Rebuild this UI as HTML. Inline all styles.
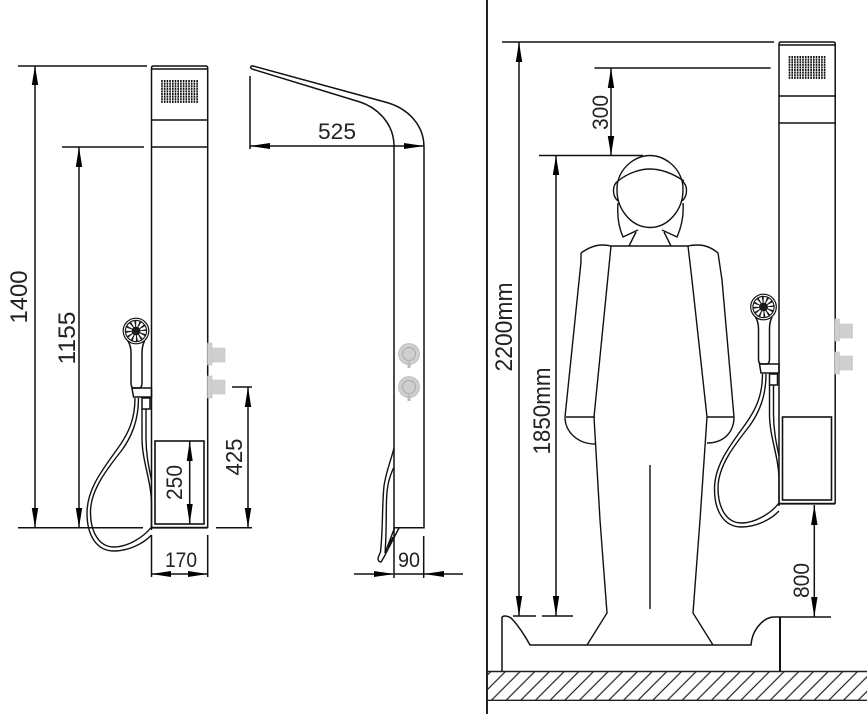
<!DOCTYPE html>
<html><head><meta charset="utf-8"><style>
html,body{margin:0;padding:0;background:#fff;width:867px;height:714px;overflow:hidden}
svg{display:block}
text{font-family:"Liberation Sans",sans-serif;font-size:22px;fill:#222;text-anchor:middle}
.l{fill:none;stroke:#111;stroke-width:1.5}
.h{fill:none;stroke:#111;stroke-width:1.4}
.a{fill:#000;stroke:none}
.v{fill:#cfcfcf;stroke:#c4c4c4;stroke-width:.6}
</style></head><body>
<svg width="867" height="714" viewBox="0 0 867 714" xmlns="http://www.w3.org/2000/svg">
<defs>
<pattern id="ht" patternUnits="userSpaceOnUse" x="3.4" y="0" width="14.67" height="14.67">
<path d="M-2 16.67L16.67 -2M-2 2L2 -2M12.67 16.67L16.67 12.67" fill="none" stroke="#222" stroke-width="1.2"/>
</pattern>
<g id="panel">
<path class="l" d="M151.5 527.7V68Q151.5 66 153.5 66H205.7Q207.7 66 207.7 68V527.7"/>
<path class="l" d="M151.5 69H207.7M151.5 120H207.7M151.5 147H207.7"/>
<path d="M151.5 527.7H207.7" fill="none" stroke="#111" stroke-width="1.9"/>
<rect x="155" y="441" width="49" height="83" fill="none" stroke="#111" stroke-width="1.6"/>
<path d="M162 80V103M164.7 80V103M167.4 80V103M170.1 80V103M172.8 80V103M175.5 80V103M178.2 80V103M180.9 80V103M183.6 80V103M186.3 80V103M189 80V103M191.7 80V103M194.4 80V103M197.1 80V103" fill="none" stroke="#111" stroke-width="1.6" stroke-dasharray="2.1 .5"/>
<!-- valves -->
<rect class="v" x="207.5" y="343" width="4.5" height="22"/>
<rect class="v" x="212" y="348" width="13" height="14"/>
<rect class="v" x="207.5" y="376" width="4.5" height="22"/>
<rect class="v" x="212" y="380" width="13" height="14"/>
<!-- hand shower -->
<path class="l" d="M128 341Q131 346 131 353V383Q131 388 134 388H139Q142 388 142 383V353Q142 346 144.5 341" fill="#fff"/>
<circle cx="136" cy="331" r="12.8" fill="#fff" stroke="#111" stroke-width="1.2"/>
<circle cx="136" cy="331" r="11.2" fill="#1c1c1c"/>
<circle cx="136" cy="331" r="7.2" fill="none" stroke="#fff" stroke-width="5.6" stroke-dasharray="2.3 1.47"/>
<path class="l" d="M132 388H151.5V397H133.5Z" fill="#fff" stroke-width="1.6"/>
<rect x="142" y="398" width="8" height="11" fill="#fff" stroke="#111" stroke-width="1.5"/>
<!-- hose -->
<path class="h" d="M135 398C135 420 128 434 118 448C104 468 87 488 87 513C87 536 97 551 114 551C128 551 143 544 151.5 535"/>
<path class="h" d="M138.5 398C138.5 420 132 436 122 450C107 469 90.5 490 90.5 512C90.5 532 99 547 114 547C127 547 143 538 151.5 527"/>
<path class="h" d="M142 409V438C142 462 151.5 480 151.5 505V530"/>
<path class="h" d="M146 409V438C146 455 149 468 151.5 480"/>
</g>
</defs>

<!-- LEFT: front view -->
<use href="#panel"/>
<path class="l" d="M18 66H147M62 147H144M18 527.7H143M35 66V527.7M79 147V527.7"/>
<polygon class="a" points="35,66 31.8,85 38.2,85"/>
<polygon class="a" points="35,527.7 31.8,508 38.2,508"/>
<polygon class="a" points="79,147 75.8,167 82.2,167"/>
<polygon class="a" points="79,527.7 75.8,508 82.2,508"/>
<text style="font-size:24px" transform="translate(27,297) rotate(-90)" textLength="53" lengthAdjust="spacingAndGlyphs">1400</text>
<text style="font-size:24px" transform="translate(75,338) rotate(-90)" textLength="53" lengthAdjust="spacingAndGlyphs">1155</text>
<!-- 250 -->
<path class="l" d="M189.7 441V524"/>
<polygon class="a" points="189.7,441 186.7,461 192.7,461"/>
<polygon class="a" points="189.7,524 186.7,504 192.7,504"/>
<text transform="translate(182,482.5) rotate(-90)" textLength="35" lengthAdjust="spacingAndGlyphs">250</text>
<!-- 425 -->
<path class="l" d="M232 387H252M216 527.7H252M248 387V527.7"/>
<polygon class="a" points="248,387 244.8,407 251.2,407"/>
<polygon class="a" points="248,527.7 244.8,508 251.2,508"/>
<text style="font-size:23px" transform="translate(242,457) rotate(-90)" textLength="37" lengthAdjust="spacingAndGlyphs">425</text>
<!-- 170 -->
<path class="l" d="M151.5 535V577M207.7 535V577M151.5 574H207.7"/>
<polygon class="a" points="151.5,574 171,571 171,577"/>
<polygon class="a" points="207.7,574 188,571 188,577"/>
<text style="font-size:21px" x="181" y="567" textLength="32" lengthAdjust="spacingAndGlyphs">170</text>

<!-- MIDDLE: side view -->
<path class="l" d="M394 146C394 124 378 108 360 102L252 69Q250 67.5 251 66.5Q251.5 65.5 253 66L385 102C408 108 424 125 424 147V527.7H394V146"/>
<path class="l" d="M250 76V149M250 146H424"/>
<polygon class="a" points="250,146 270,143 270,149"/>
<polygon class="a" points="424,146 404,143 404,149"/>
<text x="337" y="139" textLength="38" lengthAdjust="spacingAndGlyphs">525</text>
<circle cx="409" cy="354" r="10.5" fill="#cfcfcf" stroke="#bbb" stroke-width=".8"/>
<circle cx="409" cy="354" r="6.5" fill="none" stroke="#aaa" stroke-width="1"/>
<rect x="407.5" y="362" width="3" height="6" fill="#bbb"/>
<circle cx="409" cy="387" r="10.5" fill="#cfcfcf" stroke="#bbb" stroke-width=".8"/>
<circle cx="409" cy="387" r="6.5" fill="none" stroke="#aaa" stroke-width="1"/>
<rect x="407.5" y="395" width="3" height="6" fill="#bbb"/>
<path class="h" d="M394 448C391 460 386 472 384 486C382 505 383 530 380.5 552L378 558Q378 562 381 562L384 557L399 528"/>
<path class="h" d="M393.5 468C389 478 387 486 386.5 500C386 520 386.5 535 385 553L394.5 528M393 537L388 547"/>
<path class="l" d="M394 527V578M423.7 536V578M354 574H393M394 574H424M424 574H463"/>
<polygon class="a" points="394,574 374,571 374,577"/>
<polygon class="a" points="424,574 444,571 444,577"/>
<text style="font-size:21px" x="409" y="567" textLength="22" lengthAdjust="spacingAndGlyphs">90</text>

<!-- RIGHT: person view -->
<path d="M487 0V714" fill="none" stroke="#222" stroke-width="2"/>
<use href="#panel" x="627.5" y="-24"/>
<path class="l" d="M502 42H774M594.5 68H770.7M539 155.5H643M519 42V616M611 68V155.5M556 155.5V616"/>
<polygon class="a" points="519,42 515.8,62 522.2,62"/>
<polygon class="a" points="519,616 515.8,596 522.2,596"/>
<polygon class="a" points="611,68 607.8,88 614.2,88"/>
<polygon class="a" points="611,155.5 607.8,136 614.2,136"/>
<polygon class="a" points="556,155.5 552.8,175 559.2,175"/>
<polygon class="a" points="556,616 552.8,596 559.2,596"/>
<text transform="translate(608,112.5) rotate(-90)" textLength="35" lengthAdjust="spacingAndGlyphs">300</text>
<text style="font-size:24px" transform="translate(512,327) rotate(-90)" textLength="89" lengthAdjust="spacingAndGlyphs">2200mm</text>
<text style="font-size:24px" transform="translate(550,411) rotate(-90)" textLength="87" lengthAdjust="spacingAndGlyphs">1850mm</text>
<!-- person -->
<path class="h" d="M618 181C622 166 636 155.5 650 155.5C664 155.5 678 166 682 181"/>
<path class="h" d="M618 181C628 173 640 169 650 169C660 169 672 173 684 181"/>
<path class="h" d="M617 190C617 210 632 227.5 650 227.5C668 227.5 683 210 683 190C683 187 683 184 682 181M617 190C617 187 617 184 618 181"/>
<path class="h" d="M618 181C612 185 612 196 618 201M682 181C688 185 688 196 682 201"/>
<path class="h" d="M618 203C617 216 619 228 623 237L638 230M683 203C684 216 681 228 677 237L662 230"/>
<path class="h" d="M636 232L629 246M664 232L671 246"/>
<path class="h" d="M581 253L581 262L565 417C565 432 578 444 595 444M581 253C588 248 595 245 602 245Q607 245 611 246H688Q692 245 698 245C705 245 712 248 718 253L722 280L734 417C734 432 724 443 707 443"/>
<path class="h" d="M611 246L594 417L600 520L607 613L587 645M688 246L692 280L707 417L700 520L693 613L713 645"/>
<path class="h" d="M566 417H595M707 417H734M650 465V609"/>
<!-- floor -->
<path class="l" d="M502 671V618Q502 616 505 616Q508 616 511 618C518 625 525 636 530 645H751C752 630 763 618 773 617H831"/>
<path d="M780 617V671.5" fill="none" stroke="#111" stroke-width="2"/>
<path class="l" d="M513 616H536M542 616H573"/>
<path class="l" d="M814.3 505V617"/>
<polygon class="a" points="814.3,505 811.1,525 817.5,525"/>
<polygon class="a" points="814.3,617 811.1,597 817.5,597"/>
<text transform="translate(809,580.5) rotate(-90)" textLength="35" lengthAdjust="spacingAndGlyphs">800</text>
<rect x="487" y="672" width="380" height="28" fill="url(#ht)"/>
<path d="M487 671.5H867M487 700.3H867" fill="none" stroke="#222" stroke-width="1.4"/>
</svg>
</body></html>
